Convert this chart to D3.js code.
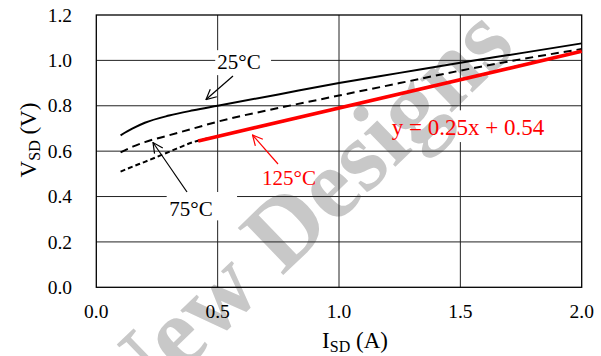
<!DOCTYPE html>
<html>
<head>
<meta charset="utf-8">
<script src="https://cdn.jsdelivr.net/npm/d3@7/dist/d3.min.js"></script>
<style>
  html, body { margin: 0; padding: 0; background: #fff; }
  svg { display: block; font-family: "Liberation Serif", "Times New Roman", serif; }
</style>
</head>
<body>
<svg id="chart" width="601" height="356"></svg>
<script>
// Source-drain current (A) at which the diode curves were sampled
const iSD = [0.1, 0.15, 0.2, 0.3, 0.4, 0.5, 0.75, 1.0, 1.25, 1.5, 1.75, 2.0];
// Forward voltage (V) per junction temperature
const v25  = [0.67, 0.70, 0.725, 0.757, 0.78, 0.80, 0.85, 0.90, 0.945, 0.99, 1.032, 1.075];
const v75  = [0.595, 0.62, 0.64, 0.67, 0.70, 0.73, 0.79, 0.845, 0.90, 0.955, 1.005, 1.05];
const v125 = [0.51, 0.532, 0.553, 0.597, 0.64, 0.665, 0.727, 0.79, 0.853, 0.915, 0.978, 1.04];
// Linear fit of the 125°C curve
const fitSlope = 0.25;
const fitIntercept = 0.54;
const fitRange = [0.42, 2.0];
// Axis ticks
const xTicks = [0.0, 0.5, 1.0, 1.5, 2.0];
const yTicks = [0.0, 0.2, 0.4, 0.6, 0.8, 1.0, 1.2];

const svg = d3.select("#chart");
const x = d3.scaleLinear().domain([0, 2]).range([96.3, 581.7]);
const y = d3.scaleLinear().domain([0, 1.2]).range([287.3, 15]);

const defs = svg.append("defs");

// arrowheads
[["arrBlack", "#000"], ["arrRed", "#f00"]].forEach(([id, c]) => {
  defs.append("marker").attr("id", id)
    .attr("viewBox", "0 0 12 12").attr("refX", 11).attr("refY", 6)
    .attr("markerWidth", 12).attr("markerHeight", 12)
    .attr("markerUnits", "userSpaceOnUse").attr("orient", "auto")
    .append("path").attr("d", "M1,1 L11,6 L1,11")
    .attr("fill", "none").attr("stroke", c).attr("stroke-width", 1.2);
});

// label areas that interrupt the grid
const boxes = [
  {x0: 0.49, x1: 0.72, y0: 1.045, y1: 0.935},
  {x0: 0.29, x1: 0.58, y0: 0.42, y1: 0.295},
  {x0: 1.19, x1: 1.87, y0: 0.78, y1: 0.64}
];
const mask = defs.append("mask").attr("id", "gridMask")
  .attr("maskUnits", "userSpaceOnUse")
  .attr("x", 0).attr("y", 0).attr("width", 601).attr("height", 356);
mask.append("rect").attr("width", 601).attr("height", 356).attr("fill", "#fff");
mask.selectAll("rect.cut").data(boxes).enter().append("rect")
  .attr("x", d => x(d.x0)).attr("y", d => y(d.y0))
  .attr("width", d => x(d.x1) - x(d.x0)).attr("height", d => y(d.y1) - y(d.y0))
  .attr("fill", "#000");

// watermark
svg.append("text")
  .attr("transform", "translate(300,213) rotate(-44)")
  .attr("text-anchor", "middle").attr("dy", "0.33em")
  .attr("font-size", 100).attr("font-weight", "bold")
  .attr("fill", "#c8c8c8")
  .text("New Designs");

// grid
const grid = svg.append("g").attr("stroke", "#222").attr("stroke-width", 1)
  .attr("mask", "url(#gridMask)");
grid.selectAll("line.h").data(yTicks.slice(1, -1)).enter().append("line")
  .attr("x1", x(0)).attr("x2", x(2)).attr("y1", d => y(d)).attr("y2", d => y(d));
grid.selectAll("line.v").data(xTicks.slice(1, -1)).enter().append("line")
  .attr("y1", y(0)).attr("y2", y(1.2)).attr("x1", d => x(d)).attr("x2", d => x(d));

// frame
svg.append("rect").attr("x", x(0)).attr("y", y(1.2))
  .attr("width", x(2) - x(0)).attr("height", y(0) - y(1.2))
  .attr("fill", "none").attr("stroke", "#000").attr("stroke-width", 1.3);

// curves
const line = d3.line().x(d => x(d[0])).y(d => y(d[1])).curve(d3.curveMonotoneX);
const series = [
  {v: v125, dash: "5,3", w: 2},
  {v: v75, dash: "8,5", w: 2},
  {v: v25, dash: null, w: 2}
];
series.forEach(s => {
  svg.append("path").datum(iSD.map((c, i) => [c, s.v[i]]))
    .attr("d", line).attr("fill", "none").attr("stroke", "#000")
    .attr("stroke-width", s.w).attr("stroke-dasharray", s.dash);
});
svg.append("path")
  .datum(fitRange.map(c => [c, fitSlope * c + fitIntercept]))
  .attr("d", d3.line().x(d => x(d[0])).y(d => y(d[1])))
  .attr("stroke", "#f00").attr("stroke-width", 3.6).attr("fill", "none");

// tick labels
svg.selectAll("text.yt").data(yTicks).enter().append("text")
  .attr("x", 72).attr("y", d => y(d)).attr("dy", "0.34em")
  .attr("text-anchor", "end").attr("font-size", 19.5)
  .text(d => d.toFixed(1));
svg.selectAll("text.xt").data(xTicks).enter().append("text")
  .attr("x", d => x(d)).attr("y", 318)
  .attr("text-anchor", "middle").attr("font-size", 19.5)
  .text(d => d.toFixed(1));

// axis titles
const yt = svg.append("text").attr("transform", "translate(36,140) rotate(-90)")
  .attr("text-anchor", "middle").attr("font-size", 23);
yt.append("tspan").text("V");
yt.append("tspan").attr("font-size", 16).attr("dy", 4).text("SD");
yt.append("tspan").attr("dy", -4).text(" (V)");

const xt = svg.append("text").attr("x", 355).attr("y", 348)
  .attr("text-anchor", "middle").attr("font-size", 23);
xt.append("tspan").text("I");
xt.append("tspan").attr("font-size", 16).attr("dy", 4).text("SD");
xt.append("tspan").attr("dy", -4).text(" (A)");

// annotations
const notes = [
  {t: "25°C", cx: 239, cy: 62, c: "#000", fs: 21, from: [233, 76], to: [206, 99.5], m: "arrBlack"},
  {t: "75°C", cx: 191, cy: 209, c: "#000", fs: 21, from: [187, 192], to: [153, 142.5], m: "arrBlack"},
  {t: "125°C", cx: 289, cy: 178, c: "#f00", fs: 21, from: [278, 164], to: [252.5, 135], m: "arrRed"}
];
notes.forEach(n => {
  svg.append("line").attr("x1", n.from[0]).attr("y1", n.from[1])
    .attr("x2", n.to[0]).attr("y2", n.to[1])
    .attr("stroke", n.c).attr("stroke-width", 1.2)
    .attr("marker-end", `url(#${n.m})`);
  svg.append("text").attr("x", n.cx).attr("y", n.cy).attr("dy", "0.35em")
    .attr("text-anchor", "middle").attr("font-size", n.fs).attr("fill", n.c)
    .text(n.t);
});
svg.append("text").attr("x", 468).attr("y", 127).attr("dy", "0.35em")
  .attr("text-anchor", "middle").attr("font-size", 23).attr("fill", "#f00")
  .text(`y = ${fitSlope}x + ${fitIntercept}`);
</script>
</body>
</html>
